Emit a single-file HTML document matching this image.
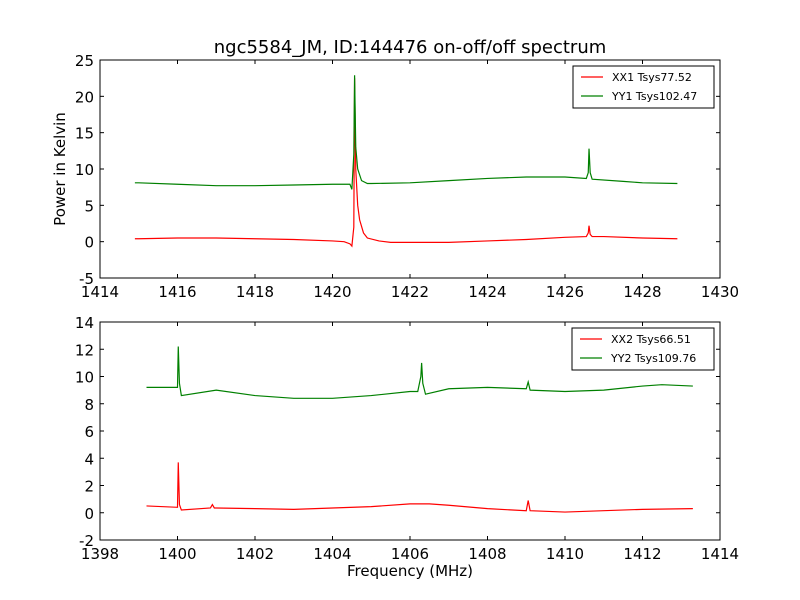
<!DOCTYPE html>
<html><head><meta charset="utf-8"><style>
body{margin:0;background:#fff;}
svg{display:block;font-family:"DejaVu Sans","Liberation Sans",sans-serif;}
</style></head><body>
<svg id="chart" width="800" height="600">
<rect width="800" height="600" fill="#fff"/>
<text x="410" y="53" font-size="18" text-anchor="middle">ngc5584_JM, ID:144476 on-off/off spectrum</text>
<text x="65" y="169" font-size="15" text-anchor="middle" transform="rotate(-90 65 169)">Power in Kelvin</text>
<text x="410" y="576" font-size="15" text-anchor="middle">Frequency (MHz)</text>
</svg>
<script>
// Top panel data
const topXX1F = [1414.9,1415,1416,1417,1418,1419,1420,1420.3,1420.45,1420.5,1420.55,1420.57,1420.6,1420.65,1420.7,1420.8,1420.9,1421.2,1421.5,1422,1423,1424,1425,1426,1426.55,1426.6,1426.62,1426.65,1426.7,1427,1428,1428.9];
const topXX1V = [0.4,0.4,0.5,0.5,0.4,0.3,0.1,0.0,-0.3,-0.6,2,22.5,10,5,3,1.2,0.5,0.1,-0.1,-0.1,-0.1,0.1,0.3,0.6,0.7,1.2,2.2,1.0,0.7,0.7,0.5,0.4];
const topYY1F = [1414.9,1415,1416,1417,1418,1419,1420,1420.45,1420.5,1420.55,1420.57,1420.6,1420.65,1420.75,1420.9,1421,1422,1423,1424,1425,1426,1426.55,1426.6,1426.62,1426.65,1426.7,1427.5,1428,1428.9];
const topYY1V = [8.1,8.1,7.9,7.7,7.7,7.8,7.9,7.9,7.2,12,22.9,13,10,8.4,8.0,8.0,8.1,8.4,8.7,8.9,8.9,8.7,9.5,12.8,9.5,8.6,8.3,8.1,8.0];
// Bottom panel data
const botYY2F = [1399.2,1400,1400.02,1400.05,1400.1,1401,1402,1403,1404,1405,1406,1406.2,1406.28,1406.3,1406.33,1406.4,1407,1408,1409,1409.05,1409.1,1410,1411,1412,1412.5,1413.3];
const botYY2V = [9.2,9.2,12.2,9.5,8.6,9.0,8.6,8.4,8.4,8.6,8.9,8.9,10,11.0,9.5,8.7,9.1,9.2,9.1,9.6,9.0,8.9,9.0,9.3,9.4,9.3];
const botXX2F = [1399.2,1400,1400.02,1400.05,1400.1,1400.85,1400.9,1400.95,1401,1402,1403,1404,1405,1406,1406.5,1407,1408,1409,1409.05,1409.1,1410,1411,1412,1413.3];
const botXX2V = [0.5,0.4,3.7,0.6,0.2,0.35,0.6,0.35,0.35,0.3,0.25,0.35,0.45,0.65,0.65,0.55,0.3,0.15,0.9,0.15,0.05,0.15,0.25,0.3];
const topXTicks = [1414,1416,1418,1420,1422,1424,1426,1428,1430];
const topYTicks = [-5,0,5,10,15,20,25];
const botXTicks = [1398,1400,1402,1404,1406,1408,1410,1412,1414];
const botYTicks = [-2,0,2,4,6,8,10,12,14];

const NS="http://www.w3.org/2000/svg";
const svg=document.getElementById('chart');
function mk(tag,attrs,parent){const e=document.createElementNS(NS,tag);for(const k in attrs)e.setAttribute(k,attrs[k]);(parent||svg).appendChild(e);return e;}

function panel(name,top,xmin,xmax,ymin,ymax,xt,yt,series,legend){
  const L=100,R=720,T=top,B=top+218;
  const g=mk('g',{});
  
  
  const sx=v=>L+(v-xmin)/(xmax-xmin)*(R-L);
  const sy=v=>B-(v-ymin)/(ymax-ymin)*(B-T);
  const defs=mk('clipPath',{id:name+'clip'},g);
  mk('rect',{x:L,y:T,width:R-L,height:B-T},defs);
  series.forEach(s=>{
    const d=s.f.map((f,i)=>(i?'L':'M')+sx(f).toFixed(2)+','+sy(s.v[i]).toFixed(2)).join('');
    const p=mk('path',{d:d,fill:'none',stroke:s.c,'stroke-width':1.2,'clip-path':'url(#'+name+'clip)'},g);
    
    
  });
  mk('rect',{x:L,y:T,width:R-L,height:B-T,fill:'none',stroke:'#000','stroke-width':1},g);
  xt.forEach(t=>{const x=sx(t);
    mk('line',{x1:x,x2:x,y1:B,y2:B-4,stroke:'#000'},g);
    mk('line',{x1:x,x2:x,y1:T,y2:T+4,stroke:'#000'},g);
    const tx=mk('text',{x:x,y:B+19,'font-size':15,'text-anchor':'middle'},g);tx.textContent=t;
    
    
  });
  yt.forEach(t=>{const y=sy(t);
    mk('line',{x1:L,x2:L+4,y1:y,y2:y,stroke:'#000'},g);
    mk('line',{x1:R,x2:R-4,y1:y,y2:y,stroke:'#000'},g);
    const tx=mk('text',{x:L-6,y:y+6,'font-size':15,'text-anchor':'end'},g);tx.textContent=t;
    
    
  });
  const lg=mk('g',{},g);
  
  
  mk('rect',{x:legend.x,y:T+6,width:legend.w,height:42,fill:'#fff',stroke:'#000'},lg);
  series.forEach((s,i)=>{const y=T+17+i*19;
    mk('line',{x1:legend.x+8,x2:legend.x+30,y1:y,y2:y,stroke:s.c,'stroke-width':1.2},lg);
    const tx=mk('text',{x:legend.x+39,y:y+4,'font-size':11},lg);tx.textContent=s.label;
    
    
  });
}
panel('top',60,1414,1430,-5,25,topXTicks,topYTicks,[
 {id:'xx1',f:topXX1F,v:topXX1V,c:'#ff0000',label:'XX1 Tsys77.52'},
 {id:'yy1',f:topYY1F,v:topYY1V,c:'#008000',label:'YY1 Tsys102.47'}],{x:573,w:141});
panel('bottom',322,1398,1414,-2,14,botXTicks,botYTicks,[
 {id:'xx2',f:botXX2F,v:botXX2V,c:'#ff0000',label:'XX2 Tsys66.51'},
 {id:'yy2',f:botYY2F,v:botYY2V,c:'#008000',label:'YY2 Tsys109.76'}],{x:572,w:142});
</script>
</body></html>
